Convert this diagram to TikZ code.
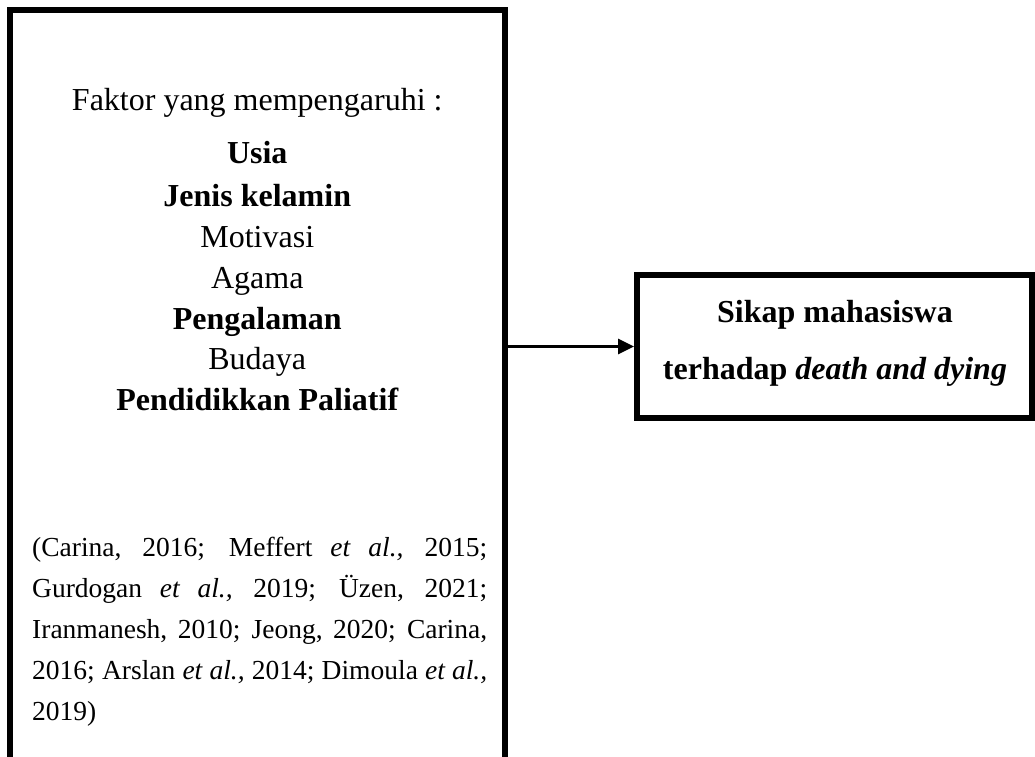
\documentclass[tikz,border=0pt]{standalone}
\usepackage{fontspec}
\setmainfont{Liberation Serif}
\usetikzlibrary{arrows.meta}
\begin{document}
\begin{tikzpicture}[x=1pt,y=-1pt,
  frame/.style={draw=black, line width=6pt, inner sep=0pt},
  item/.style={anchor=base, inner sep=0pt, font=\fontsize{32}{38}\selectfont},
  cite/.style={anchor=base west, inner sep=0pt, font=\fontsize{27.5}{34}\selectfont},
  link/.style={line width=3pt, -{Triangle[length=16pt,width=15pt]}}]
\useasboundingbox (0,0) rectangle (1035,756);
\clip (0,0) rectangle (1035,756);
\node[frame, minimum width=494.5pt, minimum height=900pt] (factors) at (257.25,460) {};
\node[frame, minimum width=395pt, minimum height=143pt] (outcome) at (834.5,346.5) {};
\node[item] (faktor) at (257.25,110) {Faktor yang mempengaruhi :};
\node[item] (usia) at (257.25,163) {\bfseries Usia};
\node[item] (jenis) at (257.25,206) {\bfseries Jenis kelamin};
\node[item] (motivasi) at (257.25,247) {Motivasi};
\node[item] (agama) at (257.25,288) {Agama};
\node[item] (pengalaman) at (257.25,329) {\bfseries Pengalaman};
\node[item] (budaya) at (257.25,369) {Budaya};
\node[item] (pendidikan) at (257.25,410) {\bfseries Pendidikkan Paliatif};
\node[cite] (cite1) at (32,556) {\makebox[455pt][s]{(Carina, 2016; Meffert \textit{et al.,} 2015;}};
\node[cite] (cite2) at (32,597) {\makebox[455pt][s]{Gurdogan \textit{et al.,} 2019; Üzen, 2021;}};
\node[cite] (cite3) at (32,638) {\makebox[455pt][s]{Iranmanesh, 2010; Jeong, 2020; Carina,}};
\node[cite] (cite4) at (32,679) {\makebox[455pt][s]{2016; Arslan \textit{et al.,} 2014; Dimoula \textit{et al.,}}};
\node[cite] (cite5) at (32,720) {2019)};
\node[item] (sikap) at (835,322) {\bfseries Sikap mahasiswa};
\node[item] (terhadap) at (835,379) {\bfseries terhadap \textit{death and dying}};
\draw[link] (factors.east |- outcome.west) -- (outcome.west);
\end{tikzpicture}
\end{document}
